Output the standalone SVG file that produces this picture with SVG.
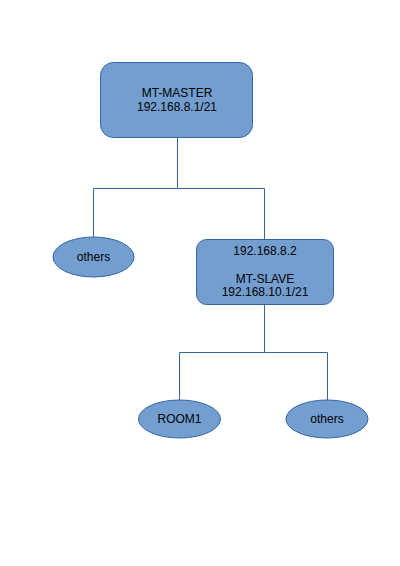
<svg xmlns="http://www.w3.org/2000/svg" width="400" height="566" viewBox="0 0 400 566">
<style>
.n{fill:#729fcf;stroke:#3465a4;stroke-width:1}
.c{fill:none;stroke:#3465a4;stroke-width:1}
text{font-family:"Liberation Sans",Arial,sans-serif;font-size:12px;fill:#000;text-anchor:middle}
</style>
<rect width="400" height="566" fill="#fff"/>
<g id="connectors">
<path class="c" d="M177.5 138V188.5H93.5V237M177.5 188.5H264.5V239"/>
<path class="c" d="M264.5 305V352.5H179.5V400M264.5 352.5H327.5V400"/>
</g>
<g id="master">
<rect class="n" x="100.5" y="62.5" width="152" height="75" rx="13"/>
<text x="177" y="97">MT-MASTER</text>
<text x="177" y="111">192.168.8.1/21</text>
</g>
<g id="others1">
<ellipse class="n" cx="93.5" cy="257" rx="40.5" ry="20"/>
<text x="93.5" y="261">others</text>
</g>
<g id="slave">
<rect class="n" x="196.5" y="239.5" width="137" height="65" rx="10"/>
<text x="265" y="255">192.168.8.2</text>
<text x="265" y="283">MT-SLAVE</text>
<text x="265" y="296">192.168.10.1/21</text>
</g>
<g id="room1">
<ellipse class="n" cx="179.5" cy="419" rx="41" ry="19"/>
<text x="179.5" y="423">ROOM1</text>
</g>
<g id="others2">
<ellipse class="n" cx="327" cy="419" rx="41" ry="19"/>
<text x="327" y="423">others</text>
</g>
</svg>
